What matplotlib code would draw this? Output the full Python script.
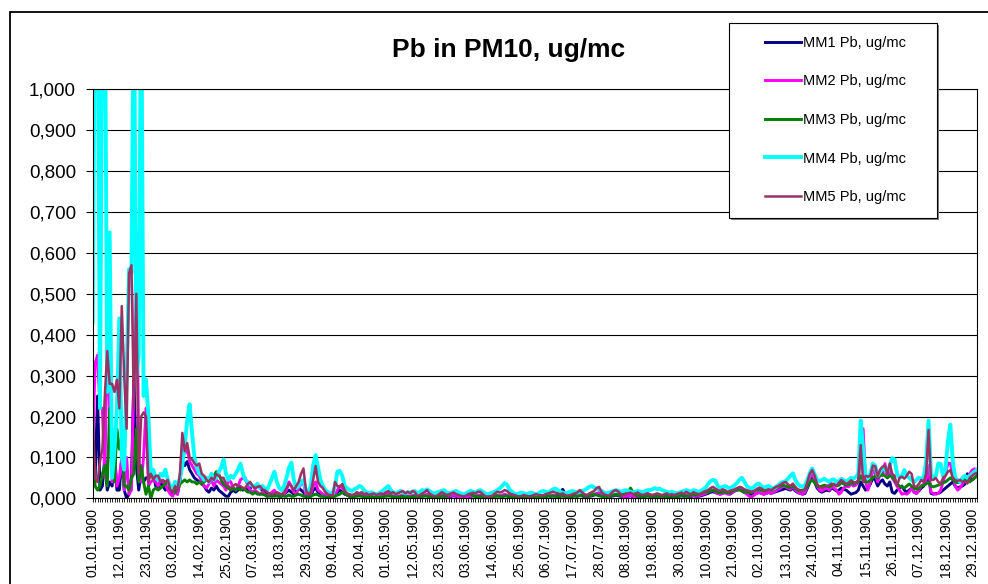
import numpy as np
import matplotlib
matplotlib.use("Agg")
import matplotlib.pyplot as plt
from matplotlib.patches import Rectangle
from matplotlib.ticker import FixedLocator, FuncFormatter, MultipleLocator

plt.rcParams['font.family'] = ['Liberation Sans', 'DejaVu Sans']

title = "Pb in PM10, ug/mc"
series_names = ["MM1 Pb, ug/mc", "MM2 Pb, ug/mc", "MM3 Pb, ug/mc", "MM4 Pb, ug/mc", "MM5 Pb, ug/mc"]
tick_labels = ["01.01.1900", "12.01.1900", "23.01.1900", "03.02.1900", "14.02.1900", "25.02.1900",
               "07.03.1900", "18.03.1900", "29.03.1900", "09.04.1900", "20.04.1900", "01.05.1900",
               "12.05.1900", "23.05.1900", "03.06.1900", "14.06.1900", "25.06.1900", "06.07.1900",
               "17.07.1900", "28.07.1900", "08.08.1900", "19.08.1900", "30.08.1900", "10.09.1900",
               "21.09.1900", "02.10.1900", "13.10.1900", "24.10.1900", "04.11.1900", "15.11.1900",
               "26.11.1900", "07.12.1900", "18.12.1900", "29.12.1900"]
tick_step_days = 11

# daily values in thousandths of ug/mc (01.01 .. 31.12, 366 days)
mm1 = [100,50,250,20,30,100,20,40,30,110,
       20,20,100,20,0,10,50,300,80,20,
       60,40,50,50,60,60,30,25,40,30,
       20,25,15,10,15,10,40,90,80,90,
       70,60,50,45,40,35,30,20,15,25,
       20,30,20,15,10,5,5,15,20,15,
       20,25,20,25,20,25,30,25,30,25,
       20,15,10,8,5,10,8,5,5,10,
       15,20,15,10,20,25,20,15,5,3,
       5,20,25,15,10,8,5,3,2,2,
       10,15,20,15,10,8,5,5,6,8,
       10,8,5,4,3,5,5,3,4,5,
       6,8,10,6,5,3,4,5,6,4,
       5,4,5,6,3,4,5,6,8,5,
       3,2,3,5,6,5,4,3,5,6,
       5,3,2,2,3,4,5,6,5,6,
       6,4,3,2,3,4,5,6,5,6,
       8,6,4,3,2,2,3,4,5,3,
       4,6,10,12,10,6,5,4,6,5,
       6,5,8,12,22,10,5,4,5,6,
       5,8,6,4,3,5,6,8,10,8,
       6,4,3,2,5,6,8,6,5,4,
       4,5,6,4,3,5,4,3,5,6,
       5,4,5,6,5,4,5,6,4,5,
       3,4,5,6,5,6,5,4,6,5,
       5,6,8,10,12,15,16,14,12,10,
       12,14,12,10,14,18,20,22,18,14,
       12,10,8,10,12,14,12,10,12,14,
       12,14,16,18,20,22,24,22,20,25,
       18,14,12,10,12,25,40,50,40,25,
       18,15,18,20,18,25,22,18,20,25,
       22,20,15,10,12,14,20,40,30,20,
       25,35,50,45,30,40,45,35,30,40,
       15,12,20,25,30,20,15,20,25,15,
       12,18,25,30,40,55,12,10,12,12,
       15,20,25,30,35,40,30,25,28,30,
       35,60,50,45,50,55]

mm2 = [120,330,350,220,220,50,400,220,40,110,
       30,50,100,20,100,10,20,300,650,100,
       40,100,220,30,40,45,40,30,45,40,
       35,20,10,5,20,10,50,120,110,120,
       90,80,70,60,55,40,30,25,35,45,
       30,45,40,35,30,20,45,40,25,20,
       30,45,50,50,30,20,15,20,15,10,
       15,10,5,10,15,20,10,5,8,10,
       20,40,30,15,10,25,35,40,5,5,
       10,30,40,20,15,10,8,5,3,2,
       10,20,30,25,15,8,5,5,8,10,
       8,10,5,5,3,5,6,4,5,6,
       8,10,12,8,5,4,5,6,8,5,
       6,5,7,6,4,5,6,8,10,6,
       4,3,4,6,8,6,4,5,6,8,
       6,4,3,2,3,5,6,8,6,8,
       8,6,3,2,3,4,6,8,6,8,
       10,8,6,4,3,2,3,4,6,4,
       3,2,4,6,4,3,4,6,8,6,
       8,6,5,4,6,4,3,4,6,8,
       6,10,8,5,4,6,8,10,12,14,
       8,5,4,3,6,8,10,8,6,4,
       5,6,8,5,4,6,2,4,10,12,
       6,4,5,6,5,4,6,8,5,6,
       4,5,6,8,6,8,6,5,8,6,
       6,8,10,12,15,18,20,15,12,10,
       12,15,10,12,15,18,20,22,20,15,
       10,5,3,8,12,15,12,10,12,15,
       12,15,18,22,25,30,28,25,22,30,
       20,15,12,10,15,30,50,60,45,30,
       20,18,22,25,20,30,25,20,10,15,
       25,30,28,35,30,32,40,100,170,40,
       20,40,70,60,40,60,55,85,50,70,
       50,40,30,20,10,12,10,15,25,15,
       12,20,30,35,45,80,15,12,10,12,
       20,40,60,86,85,60,30,20,25,35,
       45,50,60,69,72,68]

mm3 = [110,30,20,30,60,80,30,220,150,40,
       170,120,150,30,30,20,50,60,170,40,
       80,40,10,30,0,20,25,20,25,30,
       35,40,25,20,15,25,35,40,45,40,
       45,40,40,35,40,35,40,45,50,50,
       55,65,60,45,35,30,25,20,25,20,
       25,20,25,20,15,15,10,15,10,10,
       10,8,5,5,8,5,6,5,8,5,
       5,8,5,5,8,10,8,5,5,3,
       5,8,10,8,5,5,3,2,2,2,
       5,8,10,15,12,8,5,5,4,5,
       6,5,3,3,2,3,4,3,2,3,
       4,5,6,5,4,3,3,4,5,3,
       4,3,4,5,3,4,5,6,5,4,
       3,2,3,4,5,6,5,8,12,15,
       18,12,8,5,8,15,10,6,5,4,
       5,4,3,2,3,4,5,6,5,4,
       5,6,4,3,2,3,4,3,2,3,
       2,3,4,5,4,3,4,5,6,5,
       6,5,4,5,6,4,3,4,5,6,
       5,6,8,6,5,6,8,10,8,6,
       5,4,3,4,6,8,10,8,6,10,
       12,15,25,15,8,6,5,4,5,6,
       5,6,5,4,5,6,5,4,5,6,
       5,4,6,8,6,5,6,8,10,8,
       10,12,14,16,15,18,20,18,15,14,
       16,15,14,15,18,20,22,20,18,16,
       15,14,15,18,20,22,20,18,20,22,
       20,22,25,28,30,32,30,28,26,30,
       25,20,18,20,22,30,40,45,38,30,
       28,30,32,30,28,32,35,30,32,38,
       35,32,34,38,35,38,40,55,45,40,
       40,45,50,55,50,55,60,55,50,55,
       53,45,35,30,28,25,30,35,30,25,
       22,25,30,32,35,40,30,28,30,32,
       35,38,40,45,50,45,40,38,40,45,
       48,45,40,45,50,55]

mm4 = [430,1300,1300,220,1300,1300,260,650,50,120,
       220,440,100,70,300,560,550,1300,300,350,
       1300,250,290,200,60,70,50,45,60,55,
       70,45,30,25,40,30,50,80,130,190,
       230,160,100,75,60,55,45,50,40,60,
       45,50,65,75,95,60,45,55,50,60,
       70,85,60,45,40,35,30,30,35,25,
       30,25,20,35,50,65,40,25,20,30,
       50,75,87,45,25,30,40,45,20,15,
       30,80,106,75,45,30,20,15,12,10,
       30,65,67,55,30,25,20,18,22,25,
       30,28,20,15,12,15,12,10,12,15,
       20,25,30,20,15,12,15,18,15,12,
       15,14,16,18,12,15,20,18,22,18,
       14,12,14,16,18,20,15,12,14,16,
       18,14,12,10,12,15,18,16,14,18,
       20,16,12,10,12,14,16,20,24,30,
       37,33,22,16,12,10,12,14,12,10,
       12,14,12,10,12,16,18,16,14,18,
       22,24,20,16,14,12,14,16,18,16,
       14,16,18,20,24,28,30,26,24,22,
       18,14,12,14,16,18,20,18,16,18,
       20,18,16,14,16,18,16,14,18,20,
       20,22,25,22,24,20,18,16,14,16,
       14,12,14,16,18,20,18,16,20,18,
       16,18,22,26,35,42,45,43,30,25,
       28,30,27,24,28,32,38,46,50,40,
       30,26,24,28,34,36,30,26,28,30,
       26,24,28,32,38,40,42,48,55,61,
       45,35,30,28,32,45,62,73,58,45,
       42,45,48,44,40,45,46,40,42,48,
       44,40,45,50,48,52,60,190,120,55,
       50,60,85,80,55,65,75,70,65,80,
       98,95,60,50,55,69,55,50,45,40,
       45,50,48,52,90,190,60,50,55,85,
       84,55,70,140,180,90,50,45,40,50,
       55,50,55,60,65,70]

mm5 = [200,50,40,90,120,250,360,280,280,260,
       290,220,470,300,170,550,570,220,500,60,
       200,210,200,40,60,45,55,55,40,45,
       40,45,20,15,30,20,60,160,115,135,
       100,95,85,80,85,60,55,45,40,50,
       45,60,55,50,50,35,30,25,30,35,
       30,30,25,25,35,40,30,25,28,30,
       22,20,15,12,10,12,15,12,10,15,
       25,35,30,20,30,40,60,73,20,10,
       15,45,79,40,30,25,15,10,8,5,
       40,30,28,35,20,12,10,8,10,15,
       12,15,10,12,8,10,12,8,10,12,
       10,15,18,12,15,10,12,15,18,12,
       16,12,18,15,5,8,12,15,20,12,
       8,5,6,10,15,12,8,10,12,14,
       10,8,6,5,6,10,12,14,12,16,
       16,10,5,4,5,6,12,16,14,16,
       20,18,12,10,8,6,4,6,8,6,
       5,4,8,10,8,6,8,10,12,14,
       16,14,12,10,12,8,6,8,10,12,
       14,20,15,10,8,12,15,18,25,28,
       15,10,8,6,12,18,20,16,10,8,
       10,12,14,10,12,14,10,8,10,12,
       10,8,10,12,10,8,10,12,8,10,
       8,10,12,14,10,16,12,10,15,12,
       10,12,15,18,20,25,28,24,20,18,
       22,20,16,18,20,22,25,28,26,22,
       20,18,16,18,22,26,24,20,18,22,
       20,24,28,30,34,38,40,34,30,36,
       28,22,20,18,22,40,60,69,55,35,
       28,25,28,30,32,36,34,30,38,45,
       40,35,38,44,40,38,45,130,40,55,
       53,55,80,78,53,70,77,80,60,85,
       60,55,30,50,53,48,55,65,60,30,
       28,35,45,40,60,167,45,45,50,40,
       36,50,55,65,69,50,45,42,45,40,
       42,36,50,55,60,62]

colors = ["#000080", "#FF00FF", "#008000", "#00FFFF", "#993366"]
widths = [2.1, 2.1, 2.1, 2.8, 1.8]

W, H = 988, 584
fig = plt.figure(figsize=(W / 100, H / 100), dpi=100)
fig.patch.set_facecolor("white")

pl, pr, pt, pb = 92.7, 977.0, 89.3, 498.3
ax = fig.add_axes([pl / W, 1 - pb / H, (pr - pl) / W, (pb - pt) / H])

lines = []
for vals, name, c, lw in zip([mm1, mm2, mm3, mm4, mm5], series_names, colors, widths):
    v = np.array(vals, dtype=float) / 1000.0
    x = np.arange(len(v))
    ln, = ax.plot(x, v, color=c, lw=lw, label=name, solid_joinstyle="round")
    lines.append(ln)

n_days = len(mm1)
ax.set_xlim(0, n_days - 1)
ax.set_ylim(0, 1.0)

ax.yaxis.set_major_locator(MultipleLocator(0.1))
ax.yaxis.set_major_formatter(FuncFormatter(lambda v, p: f"{v:.3f}".replace(".", ",")))
ax.yaxis.grid(True, color="black", lw=0.8)
ax.set_axisbelow(True)

tick_pos = [i * tick_step_days for i in range(len(tick_labels))]
ax.xaxis.set_major_locator(FixedLocator(tick_pos))
ax.set_xticklabels(tick_labels, rotation=90, fontsize=10)
ax.xaxis.set_minor_locator(FixedLocator(list(range(n_days))))
ax.tick_params(axis="x", which="both", direction="out", length=3, width=0.6, pad=4)
ax.tick_params(axis="y", which="major", direction="out", length=5, width=0.8, pad=7, labelsize=13.5)
for s in ax.spines.values():
    s.set_color("black")
    s.set_linewidth(0.8)

fig.text(509 / W, 1 - 56.6 / H, title, ha="center", va="baseline", fontsize=19, fontweight="bold")

# outer chart border
fig.add_artist(Rectangle((9.5 / W, -0.1), 1.2, 1.1 - 12 / H, transform=fig.transFigure,
                         fill=False, edgecolor="black", lw=1.3, clip_on=False))

# legend box
lx0, lx1, ly0, ly1 = 729, 937.3, 23.3, 218.3
fig.add_artist(Rectangle(((lx0 + 1.5) / W, 1 - (ly1 + 1.5) / H), (lx1 - lx0) / W, (ly1 - ly0) / H,
                         transform=fig.transFigure, facecolor="#808080", edgecolor="none", zorder=1))
fig.add_artist(Rectangle((lx0 / W, 1 - ly1 / H), (lx1 - lx0) / W, (ly1 - ly0) / H,
                         transform=fig.transFigure, facecolor="white", edgecolor="black", lw=0.8, zorder=2))
leg = fig.legend(lines, series_names, loc="upper left", bbox_to_anchor=(765 / W, 1 - 36 / H),
                 bbox_transform=fig.transFigure, frameon=False, fontsize=10.5, handlelength=2.45,
                 handletextpad=0.18, labelspacing=1.68, borderpad=0, borderaxespad=0)
leg.set_zorder(5)

fig.savefig("out.png", dpi=100)
